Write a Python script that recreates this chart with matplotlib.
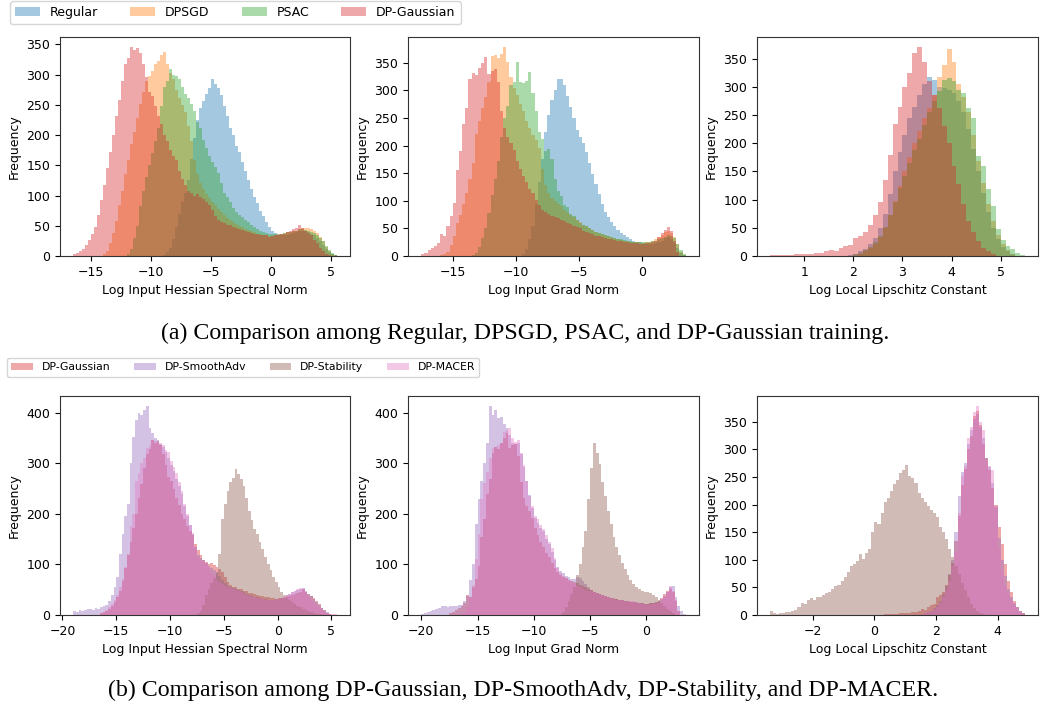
import numpy as np
import matplotlib
matplotlib.use("Agg")
import matplotlib.pyplot as plt

# ---------------- data (bin counts) ----------------
# Hessian / Grad panels use 0.25-wide bins, Lipschitz panels 0.1-wide bins.
HESS_W = 0.25
GRAD_W = 0.25
LIP_W = 0.1

# Row (a): Log Input Hessian Spectral Norm
hess_regular_start = -9.0
hess_regular = [2, 6, 14, 28, 48, 70, 90, 105, 125, 160, 195, 225, 245, 256, 268, 278, 292, 284,
                278, 266, 248, 232, 212, 200, 182, 172, 155, 140, 125, 110, 98, 88, 75, 66, 56, 48,
                42, 38, 36, 35, 34, 35, 36, 38, 40, 42, 42, 41, 40, 37, 34, 29, 25, 18, 11, 6, 3, 1]
hess_dpsgd_start = -14.0
hess_dpsgd = [3, 8, 22, 38, 58, 85, 108, 135, 158, 185, 205, 228, 252, 272, 290, 298, 306, 318,
              322, 332, 338, 318, 302, 292, 275, 262, 250, 238, 215, 190, 158, 135, 120, 110, 102,
              96, 90, 84, 78, 72, 68, 63, 60, 56, 53, 50, 48, 45, 43, 41, 39, 37, 36, 35, 34, 33,
              33, 34, 36, 37, 38, 39, 40, 42, 41, 44, 46, 47, 46, 44, 42, 38, 32, 24, 15, 8, 4, 1]
hess_psac_start = -12.0
hess_psac = [4, 12, 30, 50, 82, 108, 130, 150, 170, 190, 212, 248, 280, 290, 310, 300, 298, 292,
             280, 268, 262, 252, 240, 222, 212, 192, 178, 165, 155, 148, 138, 120, 104, 98, 90, 80,
             72, 68, 65, 60, 56, 52, 48, 45, 42, 40, 38, 37, 36, 36, 35, 37, 38, 39, 40, 41, 42,
             44, 44, 43, 42, 40, 38, 34, 30, 24, 17, 10, 5, 2]
hess_gauss_start = -16.5
hess_gauss = [3, 5, 8, 12, 18, 26, 36, 48, 68, 92, 118, 145, 172, 200, 232, 258, 290, 318, 328,
              345, 340, 344, 336, 318, 296, 272, 265, 248, 232, 218, 200, 190, 176, 165, 158, 140,
              128, 118, 108, 104, 100, 103, 98, 94, 90, 84, 76, 66, 60, 56, 55, 52, 51, 48, 47,
              44, 43, 41, 40, 38, 37, 36, 35, 34, 34, 32, 33, 34, 34, 37, 37, 40, 41, 44, 46, 52,
              46, 42, 38, 34, 27, 21, 14, 9, 4, 2]

# Row (a): Log Input Grad Norm
grad_regular_start = -9.5
grad_regular = [3, 12, 30, 55, 95, 135, 176, 225, 255, 282, 300, 321, 320, 310, 290, 270, 250, 228,
                216, 205, 188, 168, 148, 130, 112, 95, 80, 70, 62, 54, 48, 42, 38, 34, 31, 28, 26,
                25, 24, 22, 22, 22, 23, 25, 28, 32, 35, 30, 24, 14, 6, 2]
grad_dpsgd_start = -16.0
grad_dpsgd = [1, 3, 8, 20, 36, 60, 75, 95, 115, 140, 168, 222, 245, 268, 288, 315, 362, 364, 358,
              366, 378, 352, 325, 305, 292, 275, 262, 245, 232, 220, 210, 196, 158, 128, 115, 106,
              100, 94, 90, 84, 80, 74, 70, 66, 62, 57, 54, 50, 47, 44, 42, 40, 38, 36, 34, 32, 31,
              29, 28, 27, 26, 25, 25, 24, 24, 25, 26, 28, 30, 34, 38, 44, 46, 42, 34, 22, 8, 2]
grad_psac_start = -13.5
grad_psac = [2, 6, 16, 32, 50, 78, 110, 140, 172, 215, 250, 272, 310, 315, 352, 316, 314, 318, 334,
             296, 262, 225, 212, 190, 194, 176, 140, 118, 108, 92, 88, 76, 72, 65, 60, 56, 54, 50,
             48, 44, 42, 40, 38, 36, 34, 32, 31, 30, 29, 28, 27, 26, 26, 25, 25, 25, 26, 27, 28,
             30, 32, 35, 38, 36, 32, 22, 10, 3]
grad_gauss_start = -17.5
grad_gauss = [3, 6, 10, 14, 18, 24, 40, 36, 55, 72, 96, 155, 190, 240, 268, 320, 332, 328, 340, 350,
              360, 330, 336, 338, 315, 262, 232, 215, 205, 192, 172, 158, 145, 135, 122, 115, 102,
              92, 84, 80, 76, 73, 70, 68, 66, 63, 60, 58, 55, 52, 50, 46, 43, 41, 40, 37, 36, 34,
              33, 31, 30, 29, 28, 27, 26, 25, 24, 23, 23, 22, 22, 23, 24, 26, 28, 34, 42, 48, 52,
              45, 28, 8]

# Row (a): Log Local Lipschitz Constant
lip_regular_start = 1.9
lip_regular = [2, 4, 8, 12, 22, 32, 50, 75, 110, 150, 185, 215, 245, 265, 285, 305, 318, 312, 300,
               298, 295, 290, 275, 255, 225, 190, 150, 112, 78, 50, 30, 16, 8, 3]
lip_dpsgd_start = 2.1
lip_dpsgd = [4, 8, 14, 22, 34, 50, 72, 98, 125, 150, 175, 200, 222, 245, 262, 285, 318, 338, 368,
             345, 305, 282, 255, 215, 168, 130, 92, 62, 38, 22, 10, 4]
lip_psac_start = 2.0
lip_psac = [3, 6, 10, 16, 24, 35, 52, 72, 95, 120, 142, 165, 188, 208, 232, 255, 275, 292, 312,
            316, 310, 295, 290, 262, 245, 178, 160, 118, 88, 48, 28, 18, 12, 6, 2]
lip_gauss_start = 0.3
lip_gauss = [2, 1, 2, 1, 2, 3, 3, 4, 3, 5, 6, 8, 10, 9, 14, 18, 20, 32, 36, 42, 55, 72, 95, 135,
             180, 235, 265, 300, 325, 360, 370, 345, 310, 285, 262, 230, 200, 160, 128, 92, 62,
             42, 26, 15, 8, 3]

# Row (b): Log Input Hessian Spectral Norm
hess_smoothadv_start = -19.0
hess_smoothadv = [8, 6, 9, 8, 10, 11, 12, 10, 13, 12, 15, 18, 20, 28, 40, 55, 76, 120, 160, 195,
                  220, 300, 352, 385, 400, 395, 405, 412, 370, 360, 350, 345, 338, 332, 322, 310,
                  296, 285, 268, 255, 240, 215, 195, 178, 160, 135, 118, 112, 108, 102, 96, 92, 88,
                  84, 78, 70, 64, 58, 55, 53, 51, 49, 47, 45, 42, 40, 38, 36, 35, 33, 32, 31, 30,
                  30, 30, 31, 32, 34, 36, 39, 42, 45, 48, 50, 52, 54, 48, 42, 37, 32, 26, 20, 14, 9,
                  5, 2]
hess_stability_start = -7.5
hess_stability = [3, 8, 20, 40, 52, 64, 74, 82, 120, 190, 220, 245, 262, 270, 288, 278, 268, 255,
                  232, 205, 188, 170, 160, 145, 130, 115, 100, 88, 75, 66, 55, 46, 40, 34, 30, 25,
                  21, 18, 15, 12, 10, 8, 6, 4, 2, 1]
hess_macer_start = -16.5
hess_macer = [3, 6, 10, 15, 22, 30, 40, 55, 72, 95, 120, 175, 200, 265, 280, 300, 310, 330, 336,
              345, 344, 342, 340, 335, 325, 322, 305, 292, 280, 262, 245, 220, 200, 178, 162, 135,
              112, 108, 105, 100, 92, 82, 78, 70, 66, 62, 58, 56, 54, 52, 50, 47, 45, 42, 40, 38,
              36, 35, 33, 32, 31, 30, 30, 30, 30, 31, 32, 34, 36, 39, 42, 45, 48, 52, 54, 52, 45,
              36, 28, 24, 20, 15, 10, 6, 3, 2, 1, 1]

# Row (b): Log Input Grad Norm
grad_smoothadv_start = -20.0
grad_smoothadv = [2, 3, 5, 7, 9, 12, 14, 17, 17, 16, 17, 18, 18, 19, 20, 28, 38, 70, 100, 180, 230,
                  265, 300, 340, 412, 395, 405, 390, 392, 378, 370, 355, 340, 338, 340, 318, 292,
                  265, 238, 212, 192, 182, 172, 165, 150, 140, 125, 108, 95, 86, 82, 78, 75, 72,
                  72, 75, 74, 68, 62, 55, 50, 46, 44, 42, 40, 37, 35, 33, 32, 31, 30, 29, 28, 27,
                  26, 25, 25, 24, 23, 22, 22, 23, 24, 26, 28, 32, 38, 46, 55, 58, 35, 18, 8, 2]
grad_stability_start = -7.5
grad_stability = [5, 15, 28, 42, 56, 80, 100, 135, 165, 230, 290, 340, 320, 298, 262, 235, 205, 180,
                  155, 135, 118, 102, 90, 80, 70, 62, 56, 52, 48, 46, 46, 44, 40, 36, 30, 24, 18,
                  12, 7, 3]
grad_macer_start = -16.5
grad_macer = [2, 6, 15, 35, 60, 110, 160, 230, 260, 282, 310, 329, 332, 335, 340, 362, 365, 369,
              350, 342, 345, 320, 296, 265, 236, 215, 195, 189, 178, 169, 158, 145, 132, 112, 92,
              83, 78, 74, 70, 66, 62, 58, 56, 52, 50, 48, 47, 45, 43, 42, 40, 37, 35, 33, 31, 30,
              30, 29, 28, 28, 27, 27, 25, 24, 22, 21, 20, 21, 22, 23, 23, 28, 36, 45, 58, 48, 30, 6]

# Row (b): Log Local Lipschitz Constant
lip_smoothadv_start = 1.6
lip_smoothadv = [3, 5, 8, 12, 18, 26, 38, 52, 75, 100, 150, 215, 260, 275, 310, 335, 355, 365, 340,
                 320, 285, 268, 240, 195, 140, 100, 70, 48, 32, 22, 14, 8, 4]
lip_stability_start = -3.4
lip_stability = [8, 3, 2, 3, 4, 5, 6, 7, 9, 14, 22, 20, 28, 30, 27, 32, 33, 36, 40, 42, 48, 52, 55,
                 62, 68, 78, 88, 92, 98, 110, 102, 112, 120, 150, 168, 165, 185, 205, 212, 224,
                 238, 245, 258, 262, 272, 252, 248, 240, 222, 212, 205, 198, 190, 185, 178, 160,
                 150, 138, 120, 105, 88, 74, 58, 45, 32, 20, 13, 8, 4, 2]
lip_macer_start = 1.5
lip_macer = [2, 3, 5, 7, 10, 15, 22, 32, 45, 62, 88, 115, 185, 252, 270, 320, 340, 368, 378, 350,
             335, 280, 270, 262, 198, 120, 80, 52, 38, 27, 18, 10, 5, 2]

labels_a = ["Regular", "DPSGD", "PSAC", "DP-Gaussian"]
labels_b = ["DP-Gaussian", "DP-SmoothAdv", "DP-Stability", "DP-MACER"]
xlabels = ["Log Input Hessian Spectral Norm", "Log Input Grad Norm", "Log Local Lipschitz Constant"]
caption_a = "(a) Comparison among Regular, DPSGD, PSAC, and DP-Gaussian training."
caption_b = "(b) Comparison among DP-Gaussian, DP-SmoothAdv, DP-Stability, and DP-MACER."

# ---------------- drawing ----------------
colors_a = ["tab:blue", "tab:orange", "tab:green", "tab:red"]
colors_b = ["tab:red", "tab:purple", "tab:brown", "tab:pink"]

panels_a = [
    (HESS_W, [(hess_regular_start, hess_regular), (hess_dpsgd_start, hess_dpsgd),
              (hess_psac_start, hess_psac), (hess_gauss_start, hess_gauss)]),
    (GRAD_W, [(grad_regular_start, grad_regular), (grad_dpsgd_start, grad_dpsgd),
              (grad_psac_start, grad_psac), (grad_gauss_start, grad_gauss)]),
    (LIP_W, [(lip_regular_start, lip_regular), (lip_dpsgd_start, lip_dpsgd),
             (lip_psac_start, lip_psac), (lip_gauss_start, lip_gauss)]),
]
panels_b = [
    (HESS_W, [(hess_gauss_start, hess_gauss), (hess_smoothadv_start, hess_smoothadv),
              (hess_stability_start, hess_stability), (hess_macer_start, hess_macer)]),
    (GRAD_W, [(grad_gauss_start, grad_gauss), (grad_smoothadv_start, grad_smoothadv),
              (grad_stability_start, grad_stability), (grad_macer_start, grad_macer)]),
    (LIP_W, [(lip_gauss_start, lip_gauss), (lip_smoothadv_start, lip_smoothadv),
             (lip_stability_start, lip_stability), (lip_macer_start, lip_macer)]),
]

fig = plt.figure(figsize=(10.4, 7.09), dpi=100)

W, H = 1040.0, 709.0
col_px = [(60, 350), (408, 699), (757, 1038)]
rows_px = [(37, 256), (396, 615)]


def make_ax(col, row):
    x0, x1 = col_px[col]
    y0, y1 = rows_px[row]
    return fig.add_axes([x0 / W, 1 - y1 / H, (x1 - x0) / W, (y1 - y0) / H])


def draw(ax, width, series, colors, labels):
    for (start, counts), c, lab in zip(series, colors, labels):
        counts = np.asarray(counts, dtype=float)
        edges = start + width * np.arange(len(counts) + 1)
        ax.stairs(counts, edges, fill=True, color=c, alpha=0.4, linewidth=0, label=lab)
    ax.margins(x=0.05, y=0.05)
    ax.set_ylim(bottom=0)


for row, (panels, colors, labels) in enumerate([(panels_a, colors_a, labels_a),
                                                 (panels_b, colors_b, labels_b)]):
    for col, (width, series) in enumerate(panels):
        ax = make_ax(col, row)
        draw(ax, width, series, colors, labels)
        ax.set_xlabel(xlabels[col], fontsize=9)
        ax.set_ylabel("Frequency", fontsize=9)
        ax.tick_params(labelsize=9)
        for s in ax.spines.values():
            s.set_color("#333333")
        if col == 0:
            h, l = ax.get_legend_handles_labels()
            if row == 0:
                fig.legend(h, l, loc="upper left", bbox_to_anchor=(10 / W, 1 - 1 / H), ncol=4,
                           fontsize=9, borderaxespad=0, columnspacing=2.55)
            else:
                fig.legend(h, l, loc="upper left", bbox_to_anchor=(7 / W, 1 - 358 / H), ncol=4,
                           fontsize=7.8, borderaxespad=0, columnspacing=2.2)

fig.text(525 / W, 1 - 333 / H, caption_a, ha="center", va="center",
         family="Liberation Serif", fontsize=17.2)
fig.text(523 / W, 1 - 690 / H, caption_b, ha="center", va="center",
         family="Liberation Serif", fontsize=17.2)

fig.savefig("out.png", dpi=100)
